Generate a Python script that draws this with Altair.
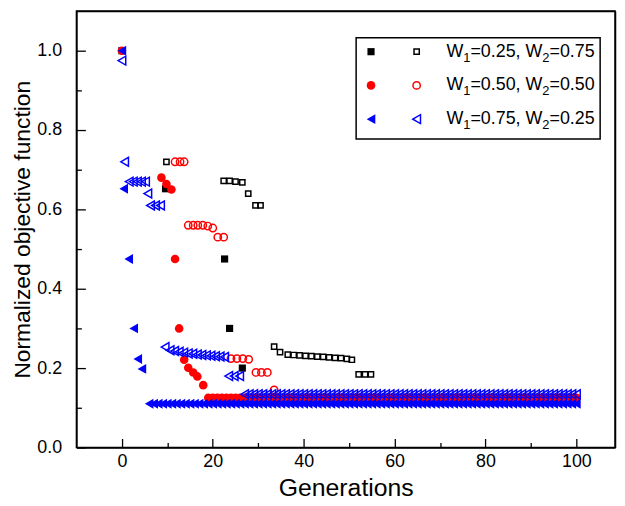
import altair as alt
import pandas as pd

# ---------------- data ----------------
b_fill_x = [0, 9.6, 22.6, 23.7, 26.5]
b_fill_y = [1.0, 0.652, 0.475, 0.300, 0.200]
b_open_x = [9.8, 22.4, 23.7, 25.0, 26.5, 27.8, 29.4, 30.5, 33.5, 34.8, 36.5, 37.8,
            39.1, 40.4, 41.7, 43.0, 44.3, 45.6, 46.9, 48.2, 49.5, 50.6, 52.1, 53.5, 54.8]
b_open_y = [0.720, 0.672, 0.672, 0.670, 0.668, 0.640, 0.610, 0.610, 0.254, 0.240, 0.234, 0.233,
            0.232, 0.231, 0.230, 0.229, 0.228, 0.227, 0.226, 0.225, 0.223, 0.221, 0.184, 0.184, 0.184]
r_fill_x = [0, 8.7, 9.8, 10.9, 11.7, 12.6, 13.7, 14.6, 15.7, 16.6, 17.9]
r_fill_y = [1.0, 0.680, 0.664, 0.650, 0.475, 0.300, 0.221, 0.201, 0.189, 0.179, 0.157]
r_fill_plateau = (19, 100, 0.125)
r_open_x = [11.7, 12.8, 13.7, 14.6, 15.7, 16.7, 17.8, 18.9, 20.0, 21.1, 22.4,
            24.0, 25.3, 26.6, 27.9, 29.5, 30.7, 32.0, 33.5]
r_open_y = [0.720, 0.720, 0.720, 0.560, 0.560, 0.560, 0.560, 0.558, 0.553, 0.530, 0.530,
            0.224, 0.224, 0.224, 0.222, 0.189, 0.189, 0.189, 0.145]
u_fill_x = [0, 0.4, 1.5, 2.6, 3.5, 4.4]
u_fill_y = [1.0, 0.652, 0.475, 0.300, 0.223, 0.198]
u_fill_plateau = (6, 100, 0.110)
u_open_x = [0, 0.6, 1.6, 2.5, 3.4, 4.3, 5.2, 5.7, 6.3, 7.4, 8.5, 9.5, 10.6, 11.6, 12.6,
            13.6, 14.6, 15.6, 16.6, 17.6, 18.6, 19.6, 20.6, 21.6, 22.6, 23.5, 24.7, 25.9]
u_open_y = [0.975, 0.720, 0.670, 0.670, 0.670, 0.670, 0.670, 0.640, 0.610, 0.610, 0.610, 0.253,
            0.245, 0.243, 0.241, 0.239, 0.237, 0.236, 0.234, 0.233, 0.232, 0.231, 0.230, 0.229,
            0.228, 0.180, 0.180, 0.180]
u_open_plateau = (27, 100, 0.134)

legend_labels = [("W", "1", "=0.25, W", "2", "=0.75"),
                 ("W", "1", "=0.50, W", "2", "=0.50"),
                 ("W", "1", "=0.75, W", "2", "=0.25")]

FONT = "Liberation Sans"
W, H = 543, 440
X0, X1, Y0, Y1 = -10, 108.5, 0, 1.1
xs = alt.Scale(domain=[X0, X1], nice=False, zero=False)
ys = alt.Scale(domain=[Y0, Y1], nice=False, zero=False)

# tick values; the last one of each list is the far edge of the plot (frame line via grid)
x_ticks = [0, 10, 20, 30, 40, 50, 60, 70, 80, 90, 100, X1]
y_ticks = [0.0, 0.1, 0.2, 0.3, 0.4, 0.5, 0.6, 0.7, 0.8, 0.9, 1.0, Y1]

x_major = "datum.value % 20 === 0"
x_edge = "datum.value > 105"
y_major = "round(datum.value * 10) % 2 === 0"
y_edge = "datum.value > 1.05"

xaxis = alt.Axis(values=x_ticks, title="Generations",
                 labelExpr=f"{x_major} ? format(datum.value, 'd') : ''",
                 domain=True, domainColor="black", domainWidth=1.5,
                 grid=True, gridColor="black", gridWidth=1.5,
                 gridOpacity={"condition": {"test": x_edge, "value": 1}, "value": 0},
                 ticks=True, tickColor="black", tickWidth=1.3, tickSize={"expr": "-9"},
                 tickOpacity={"condition": {"test": x_edge, "value": 0}, "value": 1},
                 tickDash={"condition": {"test": x_major, "value": [20, 0]}, "value": [5, 20]},
                 labelFontSize=18, titleFontSize=25, titleFontWeight="normal",
                 labelPadding=14, titlePadding=5, labelFont=FONT, titleFont=FONT,
                 labelColor="black", titleColor="black")
yaxis = alt.Axis(values=y_ticks, title="Normalized objective function",
                 labelExpr=f"{y_major} && !({y_edge}) ? format(datum.value, '.1f') : ''",
                 domain=True, domainColor="black", domainWidth=1.5,
                 grid=True, gridColor="black", gridWidth=1.5,
                 gridOpacity={"condition": {"test": y_edge, "value": 1}, "value": 0},
                 ticks=True, tickColor="black", tickWidth=1.3, tickSize={"expr": "-9"},
                 tickOpacity={"condition": {"test": y_edge, "value": 0}, "value": 1},
                 tickDash={"condition": {"test": y_major, "value": [20, 0]}, "value": [5, 20]},
                 labelFontSize=18, titleFontSize=23, titleFontWeight="normal",
                 labelPadding=24, titlePadding=2, labelFont=FONT,
                 titleFont=FONT, labelColor="black", titleColor="black")


def X(field="g"):
    return alt.X(f"{field}:Q", scale=xs, axis=xaxis)


def Y(field="v"):
    return alt.Y(f"{field}:Q", scale=ys, axis=yaxis)


def pts(xv, yv, plateau=None):
    xv, yv = list(xv), list(yv)
    if plateau is not None:
        a, b, lvl = plateau
        gens = list(range(a, b + 1))
        xv += gens
        yv += [lvl] * len(gens)
    return pd.DataFrame({"g": xv, "v": yv})


def layer(df, shape, color, filled, size):
    kw = dict(shape=shape, size=size, opacity=1)
    if filled:
        kw.update(filled=True, fill=color, strokeWidth=0)
    else:
        kw.update(filled=False, stroke=color, strokeWidth=1.5)
    return alt.Chart(df).mark_point(**kw).encode(x=X(), y=Y())


layers = [
    layer(pts(b_fill_x, b_fill_y), "square", "#000000", True, 52),
    layer(pts(b_open_x, b_open_y), "square", "#000000", False, 28),
    layer(pts(r_fill_x, r_fill_y, r_fill_plateau), "circle", "#ff0000", True, 75),
    layer(pts(r_open_x, r_open_y), "circle", "#ff0000", False, 55),
    layer(pts(u_fill_x, u_fill_y, u_fill_plateau), "triangle-left", "#0000ff", True, 100),
    layer(pts(u_open_x, u_open_y, u_open_plateau), "triangle-left", "#0000ff", False, 80),
]

one = pd.DataFrame({"a": [0]})

leg = [alt.Chart(one).mark_rect(fill="white", stroke="black", strokeWidth=1.5).encode(
    x=alt.value(282), x2=alt.value(528), y=alt.value(27), y2=alt.value(129))]
row_y = [41, 75, 109]
styles = [("square", "#000000", 52, 28), ("circle", "#ff0000", 75, 55),
          ("triangle-left", "#0000ff", 100, 80)]
for (shape, col, sf, so), ry, lab in zip(styles, row_y, legend_labels):
    leg.append(alt.Chart(one).mark_point(shape=shape, filled=True, fill=col, strokeWidth=0,
                                         size=sf, opacity=1).encode(x=alt.value(297), y=alt.value(ry)))
    leg.append(alt.Chart(one).mark_point(shape=shape, filled=False, stroke=col, strokeWidth=1.5,
                                         size=so, opacity=1).encode(x=alt.value(343), y=alt.value(ry)))
    x0 = 373
    offs = [0, 17.0, 24.2, 96.7, 103.9]
    for piece, off, is_sub in zip(lab, offs, [False, True, False, True, False]):
        leg.append(alt.Chart(one).mark_text(
            text=piece, align="left", baseline="middle", font=FONT,
            fontSize=13 if is_sub else 18, color="black",
            dy=6 if is_sub else 0).encode(x=alt.value(x0 + off), y=alt.value(ry)))

chart = alt.layer(*layers, *leg).properties(
    width=W, height=H,
    background="white",
    autosize=alt.AutoSizeParams(type="none"),
    padding={"left": 69, "top": 1, "right": 2, "bottom": 57},
).configure_view(stroke="black", strokeWidth=1.5)

chart.save("out.html", embed_options={"renderer": "svg", "actions": False})
